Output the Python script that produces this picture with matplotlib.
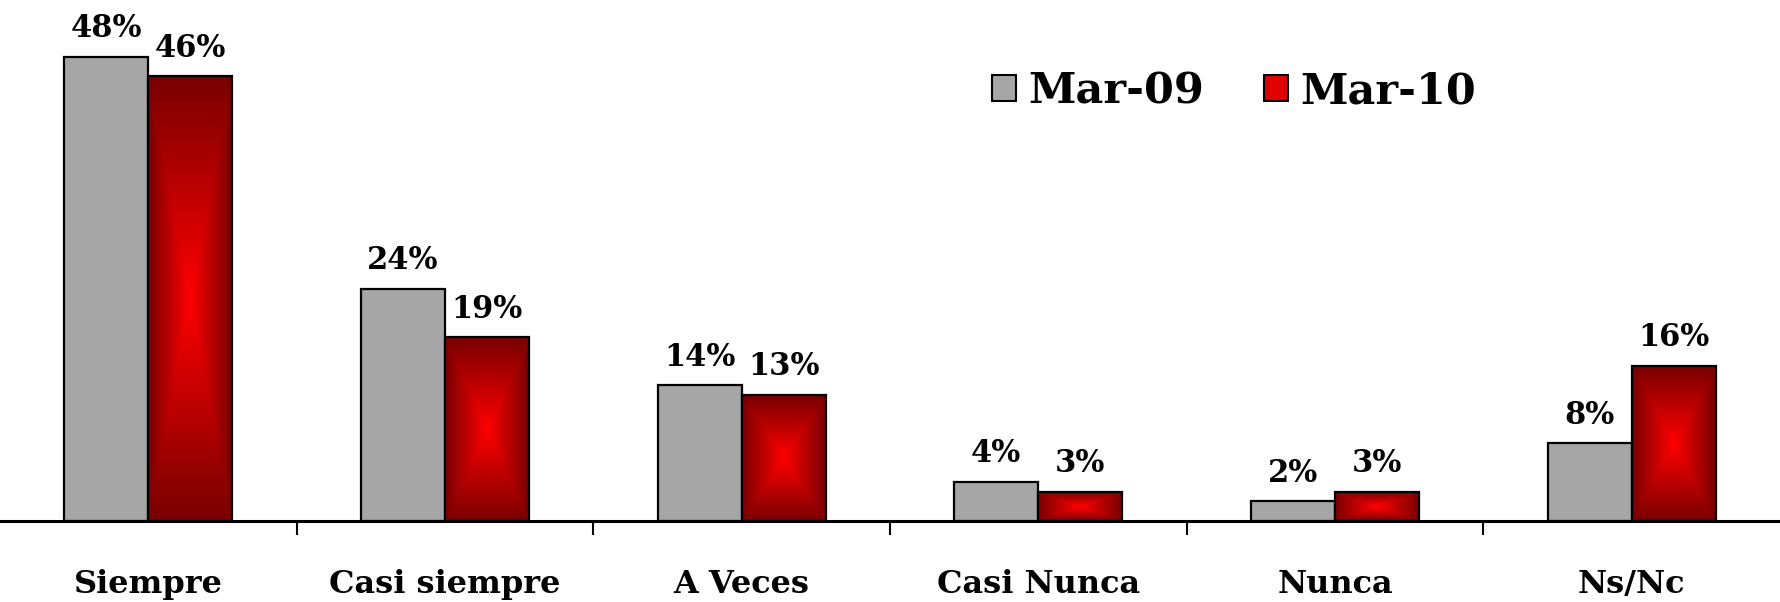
import numpy as np
import matplotlib
matplotlib.use("Agg")
import matplotlib.pyplot as plt
from matplotlib.patches import Patch
from matplotlib.colors import LinearSegmentedColormap

categories = ["Siempre", "Casi siempre", "A Veces", "Casi Nunca", "Nunca", "Ns/Nc"]
mar09 = [48, 24, 14, 4, 2, 8]
mar10 = [46, 19, 13, 3, 3, 16]
series_labels = ["Mar-09", "Mar-10"]

FONT = "DejaVu Serif"
plt.rcParams["font.family"] = FONT

fig = plt.figure(figsize=(17.8, 6.02), dpi=100)
ax = fig.add_axes([0.0, 1 - 520.5 / 602, 1.0, 520.5 / 602])

x = np.arange(len(categories))
w = 0.283
grey = "#A6A6A6"

b1 = ax.bar(x - w / 2, mar09, width=w, color=grey, edgecolor="black", linewidth=1.6, zorder=3)
b2 = ax.bar(x + w / 2, mar10, width=w, facecolor="none", edgecolor="black", linewidth=1.6, zorder=4)

# rectangular "from center" gradient for red bars
n = 300
u = np.linspace(-1, 1, n)
U, V = np.meshgrid(u, u)
D = np.maximum(np.abs(U), np.abs(V))
cmap = LinearSegmentedColormap.from_list("rg", ["#FF0000", "#780000"])
for p in b2.patches:
    x0, y0 = p.get_x(), p.get_y()
    im = ax.imshow(D, cmap=cmap, vmin=0, vmax=1, extent=[x0, x0 + p.get_width(), y0, y0 + p.get_height()],
                   aspect="auto", zorder=3, interpolation="bilinear")
    im.set_clip_path(p)

for xi, v in zip(x, mar09):
    ax.annotate(f"{v}%", (xi - w / 2, v), xytext=(0, 9), textcoords="offset points",
                ha="center", va="bottom", fontsize=22, fontweight="bold", zorder=5)
for xi, v in zip(x, mar10):
    ax.annotate(f"{v}%", (xi + w / 2, v), xytext=(0, 9), textcoords="offset points",
                ha="center", va="bottom", fontsize=22, fontweight="bold", zorder=5)

ax.set_xlim(-0.5, len(categories) - 0.5)
ax.set_ylim(0, 53.9)
ax.set_yticks([])
for s in ["top", "right", "left"]:
    ax.spines[s].set_visible(False)
ax.spines["bottom"].set_linewidth(2.2)
ax.spines["bottom"].set_zorder(6)

ax.set_xticks(x)
ax.set_xticklabels(categories, fontsize=23, fontweight="bold")
ax.tick_params(axis="x", which="major", length=0, pad=35)
ax.set_xticks(x[:-1] + 0.5, minor=True)
ax.tick_params(axis="x", which="minor", length=10, width=1.5, direction="out")

handles = [Patch(facecolor=grey, edgecolor="black", linewidth=1.5),
           Patch(facecolor="#E00000", edgecolor="black", linewidth=1.5)]
leg = ax.legend(handles, series_labels, loc="upper left", bbox_to_anchor=(992 / 1780, 1 - 70 / 520.5),
                bbox_transform=ax.transAxes, frameon=False, ncol=2,
                prop={"weight": "bold", "size": 31, "family": FONT},
                handlelength=0.56, handleheight=0.56, handletextpad=0.28, columnspacing=1.4,
                borderaxespad=0, borderpad=0)

fig.savefig("out.png", dpi=100)
